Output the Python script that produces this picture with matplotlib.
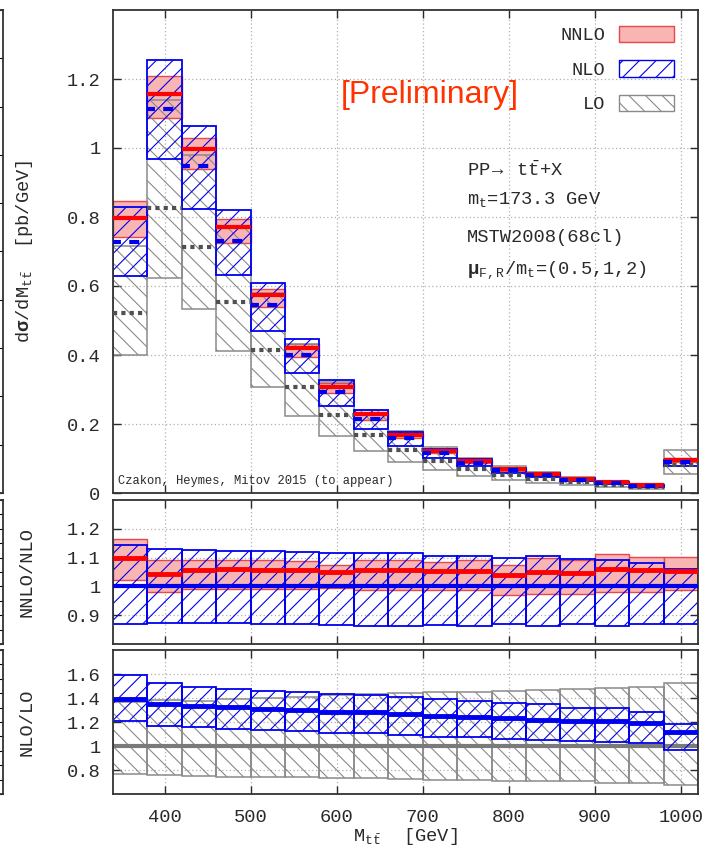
import numpy as np
import matplotlib
matplotlib.use('Agg')
import matplotlib.pyplot as plt
from matplotlib.patches import Patch
from matplotlib.ticker import FuncFormatter, MultipleLocator

plt.rcParams['font.family'] = ['Liberation Mono', 'DejaVu Sans Mono']
plt.rcParams['mathtext.fontset'] = 'custom'
plt.rcParams['mathtext.rm'] = 'Liberation Mono'
plt.rcParams['mathtext.it'] = 'Liberation Mono:italic'
plt.rcParams['mathtext.bf'] = 'Liberation Mono:bold'
plt.rcParams['hatch.linewidth'] = 0.8
plt.rcParams['font.size'] = 13.5

# --- bins in M_tt [GeV] ---
bin_lo = [340, 380, 420, 460, 500, 540, 580, 620, 660, 700, 740, 780, 820, 860, 900, 940, 980]
bin_w = 40

# --- dsigma/dM [pb/GeV] ---
nnlo_c = [0.797, 1.157, 0.997, 0.771, 0.574, 0.421, 0.308, 0.228, 0.168, 0.122, 0.093, 0.069, 0.054, 0.041, 0.031, 0.022, 0.096]
nnlo_hi = [0.847, 1.209, 1.029, 0.794, 0.591, 0.432, 0.318, 0.236, 0.174, 0.127, 0.097, 0.072, 0.057, 0.044, 0.033, 0.024, 0.101]
nnlo_lo = [0.743, 1.088, 0.939, 0.726, 0.539, 0.395, 0.289, 0.213, 0.158, 0.116, 0.087, 0.064, 0.050, 0.038, 0.029, 0.021, 0.090]

nlo_c = [0.727, 1.113, 0.947, 0.731, 0.544, 0.399, 0.293, 0.215, 0.159, 0.115, 0.088, 0.066, 0.0515, 0.039, 0.029, 0.021, 0.091]
nlo_hi = [0.830, 1.255, 1.064, 0.819, 0.608, 0.447, 0.328, 0.241, 0.178, 0.128, 0.098, 0.073, 0.057, 0.043, 0.032, 0.023, 0.097]
nlo_lo = [0.629, 0.968, 0.824, 0.633, 0.471, 0.347, 0.252, 0.185, 0.137, 0.101, 0.077, 0.058, 0.045, 0.034, 0.025, 0.018, 0.079]

lo_c = [0.523, 0.826, 0.712, 0.554, 0.415, 0.307, 0.227, 0.168, 0.125, 0.092, 0.0705, 0.0535, 0.042, 0.032, 0.024, 0.0177, 0.081]
lo_hi = [0.716, 1.140, 0.979, 0.770, 0.580, 0.433, 0.323, 0.240, 0.180, 0.133, 0.102, 0.078, 0.062, 0.047, 0.036, 0.026, 0.124]
lo_lo = [0.401, 0.624, 0.534, 0.412, 0.307, 0.224, 0.165, 0.123, 0.090, 0.066, 0.050, 0.038, 0.030, 0.023, 0.017, 0.012, 0.055]

# --- NNLO/NLO ---
r1_nlo_hi = [1.143, 1.130, 1.125, 1.124, 1.122, 1.121, 1.117, 1.116, 1.116, 1.107, 1.107, 1.098, 1.105, 1.095, 1.091, 1.081, 1.062]
r1_nlo_lo = [0.868, 0.872, 0.872, 0.872, 0.870, 0.869, 0.866, 0.863, 0.863, 0.867, 0.863, 0.869, 0.861, 0.868, 0.861, 0.868, 0.869]
r1_nnlo_c = [1.099, 1.044, 1.056, 1.061, 1.058, 1.056, 1.049, 1.058, 1.058, 1.052, 1.052, 1.041, 1.049, 1.047, 1.061, 1.058, 1.055]
r1_nnlo_hi = [1.166, 1.090, 1.090, 1.093, 1.090, 1.088, 1.076, 1.093, 1.093, 1.084, 1.090, 1.076, 1.100, 1.093, 1.114, 1.101, 1.101]
r1_nnlo_lo = [1.023, 0.980, 0.991, 0.990, 0.990, 0.990, 0.995, 0.988, 0.988, 0.989, 0.986, 0.971, 0.974, 0.974, 0.980, 0.980, 0.988]

# --- NLO/LO ---
r2_nlo_c = [1.389, 1.350, 1.333, 1.322, 1.308, 1.300, 1.286, 1.281, 1.267, 1.250, 1.244, 1.231, 1.217, 1.208, 1.208, 1.189, 1.119]
r2_nlo_hi = [1.592, 1.522, 1.489, 1.478, 1.461, 1.450, 1.433, 1.425, 1.411, 1.389, 1.378, 1.356, 1.347, 1.319, 1.314, 1.281, 1.181]
r2_nlo_lo = [1.208, 1.169, 1.156, 1.144, 1.133, 1.128, 1.111, 1.106, 1.094, 1.078, 1.078, 1.061, 1.050, 1.042, 1.036, 1.022, 0.967]
r2_lo_hi = [1.369, 1.380, 1.375, 1.390, 1.397, 1.410, 1.425, 1.430, 1.439, 1.447, 1.453, 1.461, 1.467, 1.475, 1.481, 1.489, 1.528]
r2_lo_lo = [0.767, 0.756, 0.750, 0.744, 0.739, 0.739, 0.731, 0.731, 0.722, 0.717, 0.715, 0.711, 0.706, 0.706, 0.694, 0.689, 0.675]

RED = '#ff0000'
PINK = '#f9b4b4'
RED_EDGE = '#e8474c'
BLUE = '#0000f0'
GREY = '#8a8a8a'
DGREY = '#505050'
INK = '#2a2a2a'

bin_hi = np.add(bin_lo, bin_w)


def band(ax, lo, hi, **kw):
    ax.bar(bin_lo, np.subtract(hi, lo), bottom=lo, width=bin_w, align='edge', **kw)


def central(ax, y, **kw):
    ax.hlines(y, bin_lo, bin_hi, **kw)


def style(ax, yticks, ylim, xlabels):
    ax.set_xlim(340, 1020)
    ax.set_ylim(*ylim)
    ax.set_xticks([400, 500, 600, 700, 800, 900, 1000])
    ax.set_yticks(yticks)
    ax.yaxis.set_major_formatter(FuncFormatter(lambda v, p: f'{round(v, 6):g}'))
    if not xlabels:
        ax.set_xticklabels([])
    ax.tick_params(direction='in', length=6, width=1, top=True, right=True,
                   colors=INK, labelsize=13.5)
    ax.tick_params(axis='y', pad=9)
    ax.tick_params(axis='x', pad=11)
    ax.grid(True, color='#b0b0b0', linestyle=(0, (1, 2)), linewidth=0.9)
    ax.set_axisbelow(True)
    for s in ax.spines.values():
        s.set_color('#333333')
        s.set_linewidth(1.3)


fig = plt.figure(figsize=(7.13, 8.46), dpi=100)
left, width = 113 / 713, 585 / 713
ax1 = fig.add_axes([left, 1 - 493 / 846, width, 483 / 846])
ax2 = fig.add_axes([left, 1 - 644 / 846, width, 144 / 846])
ax3 = fig.add_axes([left, 1 - 794 / 846, width, 144 / 846])

# fragments of the neighbouring figure at the left edge
for a in (ax1, ax2, ax3):
    p = a.get_position()
    fa = fig.add_axes([-0.2, p.y0, 0.2 + 3 / 713, p.height])
    fa.set_xticks([])
    fa.yaxis.set_major_locator(MultipleLocator(0.1))
    fa.tick_params(direction='in', length=5, left=False, right=True, labelleft=False)
    for s in fa.spines.values():
        s.set_color('#333333')
        s.set_linewidth(1.3)

# --- main panel ---
band(ax1, lo_lo, lo_hi, facecolor='none', edgecolor=GREY, hatch='\\\\', linewidth=1.1, zorder=2)
band(ax1, nnlo_lo, nnlo_hi, facecolor=PINK, edgecolor=RED_EDGE, linewidth=1.0, zorder=1.5)
band(ax1, nlo_lo, nlo_hi, facecolor='none', edgecolor=BLUE, hatch='//', linewidth=1.3, zorder=2.5)
central(ax1, lo_c, colors=DGREY, linewidth=3, linestyles=[(0, (1, 1))], zorder=3)
central(ax1, nlo_c, colors=BLUE, linewidth=3, linestyles=[(0.5, (2.4, 2.0))], zorder=3.2)
central(ax1, nnlo_c, colors=RED, linewidth=3, zorder=3.1)
style(ax1, [0, 0.2, 0.4, 0.6, 0.8, 1.0, 1.2], (0, 1.4), False)
ax1.set_ylabel(r'd$\mathbf{\sigma}$/dM$_{\mathrm{t\bar{t}}}$  [pb/GeV]', color=INK)
ax1.yaxis.set_label_coords(-0.133, 0.5)

handles = [Patch(facecolor=PINK, edgecolor=RED_EDGE, label='NNLO'),
           Patch(facecolor='none', edgecolor=BLUE, hatch='//', label='NLO'),
           Patch(facecolor='none', edgecolor=GREY, hatch='\\\\', label='LO')]
leg = ax1.legend(handles=handles, loc='upper right', bbox_to_anchor=(0.986, 1.0),
                 frameon=False, markerfirst=False,
                 handlelength=2.95, handleheight=0.95, labelspacing=0.85,
                 handletextpad=0.7, borderaxespad=0.45, fontsize=13.5)
for t in leg.get_texts():
    t.set_color(INK)

ax1.text(0.39, 0.824, '[Preliminary]', transform=ax1.transAxes, color='#ff3300',
         fontsize=23, family='Liberation Sans', va='center', ha='left')

info = [r'PP$\rightarrow$ t$\bar{\mathrm{t}}$+X',
        r'm$_{\mathrm{t}}$=173.3 GeV',
        'MSTW2008(68cl)',
        r'$\mathbf{\mu}_{\mathrm{F,R}}$/m$_{\mathrm{t}}$=(0.5,1,2)']
for txt, yy in zip(info, [0.656, 0.598, 0.520, 0.453]):
    ax1.text(0.605, yy, txt, transform=ax1.transAxes, color=INK, va='baseline', ha='left')

ax1.text(0.0085, 0.019, 'Czakon, Heymes, Mitov 2015 (to appear)', transform=ax1.transAxes,
         color=INK, fontsize=8.7, va='baseline', ha='left')

# --- NNLO/NLO ---
band(ax2, r1_nnlo_lo, r1_nnlo_hi, facecolor=PINK, edgecolor=RED_EDGE, linewidth=1.0, zorder=1.5)
band(ax2, r1_nlo_lo, r1_nlo_hi, facecolor='none', edgecolor=BLUE, hatch='//', linewidth=1.3, zorder=2.5)
central(ax2, r1_nnlo_c, colors=RED, linewidth=3.5, zorder=3)
central(ax2, np.ones(len(bin_lo)), colors=BLUE, linewidth=3, zorder=3.2)
style(ax2, [0.9, 1.0, 1.1, 1.2], (0.8, 1.3), False)
ax2.set_ylabel('NNLO/NLO', color=INK)
ax2.yaxis.set_label_coords(-0.133, 0.5)

# --- NLO/LO ---
band(ax3, r2_lo_lo, r2_lo_hi, facecolor='none', edgecolor=GREY, hatch='\\\\', linewidth=1.1, zorder=2)
central(ax3, np.ones(len(bin_lo)), colors='#7a7a7a', linewidth=3, zorder=2.2)
band(ax3, r2_nlo_lo, r2_nlo_hi, facecolor='none', edgecolor=BLUE, hatch='//', linewidth=1.3, zorder=2.5)
central(ax3, r2_nlo_c, colors=BLUE, linewidth=3.5, zorder=3)
style(ax3, [0.8, 1.0, 1.2, 1.4, 1.6], (0.6, 1.8), True)
ax3.set_ylabel('NLO/LO', color=INK)
ax3.yaxis.set_label_coords(-0.133, 0.5)
ax3.set_xlabel(r'M$_{\mathrm{t\bar{t}}}$  [GeV]', color=INK, labelpad=0)

fig.savefig('out.png', dpi=100)
